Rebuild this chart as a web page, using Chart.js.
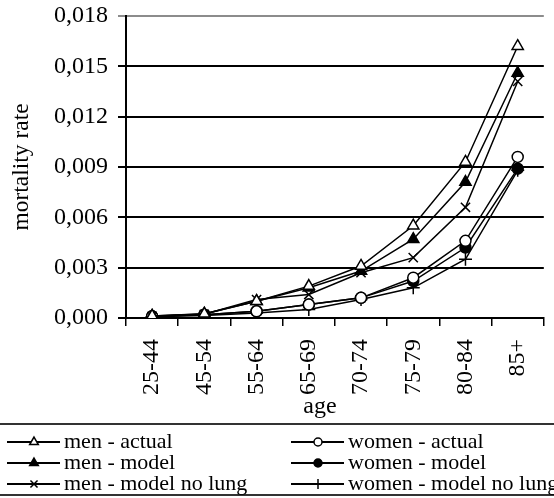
<!DOCTYPE html>
<html>
<head>
<meta charset="utf-8">
<script src="https://cdn.jsdelivr.net/npm/chart.js@4/dist/chart.umd.min.js"></script>
<style>
  html, body { margin: 0; padding: 0; background: #fff; overflow: hidden; }
  #wrap { width: 554px; height: 498px; overflow: hidden; }
  canvas { display: block; }
</style>
</head>
<body>
<div id="wrap"><canvas id="c" width="560" height="498"></canvas></div>
<script>
// Age groups on the x axis
const ageGroups = ['25-44', '45-54', '55-64', '65-69', '70-74', '75-79', '80-84', '85+'];

// Mortality rates per age group
const menActual    = [0.00012, 0.00025, 0.0010, 0.0019, 0.0031, 0.0055, 0.0093, 0.0162];
const menModel     = [0.00012, 0.00024, 0.0010, 0.0018, 0.0028, 0.0047, 0.0081, 0.0146];
const menNoLung    = [0.00010, 0.00022, 0.0011, 0.0014, 0.0027, 0.0036, 0.0066, 0.0141];
const womenActual  = [0.00010, 0.00020, 0.0004, 0.0008, 0.0012, 0.0024, 0.0046, 0.0096];
const womenModel   = [0.00010, 0.00020, 0.0004, 0.0008, 0.0012, 0.0022, 0.0042, 0.0089];
const womenNoLung  = [0.00008, 0.00015, 0.0003, 0.0005, 0.0011, 0.0018, 0.0035, 0.0088];

// Y axis range and step
const yMin = 0, yMax = 0.018, yStep = 0.003;

const FONT = 'Liberation Serif, "Times New Roman", serif';

function series(label, data, style, fill) {
  return {
    label, data,
    borderColor: '#000', borderWidth: 1.5,
    pointStyle: style,
    pointRadius: style === 'circle' ? 5.5 : 6.5,
    pointBackgroundColor: fill, pointBorderColor: '#000', pointBorderWidth: 1.5,
    tension: 0
  };
}

const datasets = [
  series('men - actual', menActual, 'triangle', '#fff'),
  series('men - model', menModel, 'triangle', '#000'),
  series('men - model no lung', menNoLung, 'crossRot', '#000'),
  series('women - actual', womenActual, 'circle', '#fff'),
  series('women - model', womenModel, 'circle', '#000'),
  series('women - model no lung', womenNoLung, 'cross', '#000')
];

// Two-column legend box below the axis, plus the x axis caption
const legendBox = {
  id: 'legendBox',
  afterDraw(chart) {
    const ctx = chart.ctx;
    ctx.save();
    ctx.fillStyle = '#000';
    ctx.font = '24px ' + FONT;
    ctx.textAlign = 'center';
    ctx.textBaseline = 'middle';
    ctx.fillText('age', 320, 407);

    ctx.strokeStyle = '#333';
    ctx.lineWidth = 2;
    ctx.beginPath();
    ctx.moveTo(0, 424); ctx.lineTo(560, 424);
    ctx.moveTo(0, 495); ctx.lineTo(560, 495);
    ctx.stroke();

    ctx.font = '22px ' + FONT;
    ctx.textAlign = 'left';
    chart.data.datasets.forEach((ds, i) => {
      const col = Math.floor(i / 3), row = i % 3;
      const x0 = col ? 291 : 7;
      const y = 442 + row * 21;
      ctx.strokeStyle = '#000';
      ctx.lineWidth = 1.8;
      ctx.beginPath();
      ctx.moveTo(x0, y); ctx.lineTo(x0 + 53, y);
      ctx.stroke();
      ctx.fillStyle = ds.pointBackgroundColor;
      ctx.strokeStyle = '#000';
      ctx.lineWidth = 1.5;
      Chart.helpers.drawPoint(ctx, {
        pointStyle: ds.pointStyle,
        radius: ds.pointStyle === 'circle' ? 4 : 5,
        borderWidth: 1.5,
        rotation: 0
      }, x0 + 27, y);
      ctx.fillStyle = '#000';
      ctx.fillText(ds.label, x0 + 57, y);
    });
    ctx.restore();
  }
};

new Chart(document.getElementById('c'), {
  type: 'line',
  data: { labels: ageGroups, datasets },
  options: {
    responsive: false,
    animation: false,
    devicePixelRatio: 1,
    layout: { padding: { top: 16, right: 2, bottom: 80, left: 0 } },
    plugins: { legend: { display: false }, tooltip: { enabled: false } },
    scales: {
      x: {
        offset: true,
        grid: { offset: true, drawOnChartArea: false, color: '#000', lineWidth: 1.5, tickLength: 8 },
        border: { color: '#000', width: 2 },
        ticks: { color: '#000', font: { family: FONT, size: 24 }, minRotation: 90, maxRotation: 90, padding: 13, autoSkip: false },
        afterFit(s) { s.height = 100; }
      },
      y: {
        min: yMin, max: yMax,
        grid: {
          color: c => (c.tick && Math.abs(c.tick.value - yMax) < 1e-9) ? '#8c8c8c' : '#000',
          lineWidth: 2, tickLength: 8
        },
        border: { color: '#000', width: 2 },
        ticks: {
          stepSize: yStep, color: '#000', padding: 10,
          font: { family: FONT, size: 24 },
          callback: v => v.toFixed(3).replace('.', ',')
        },
        title: { display: true, text: 'mortality rate', color: '#000', font: { family: FONT, size: 23.5 }, padding: { top: 8, bottom: 0 } },
        afterFit(s) { s.width = 126; s.paddingTop = 0; s.paddingBottom = 0; }
      }
    }
  },
  plugins: [legendBox]
});
</script>
</body>
</html>
